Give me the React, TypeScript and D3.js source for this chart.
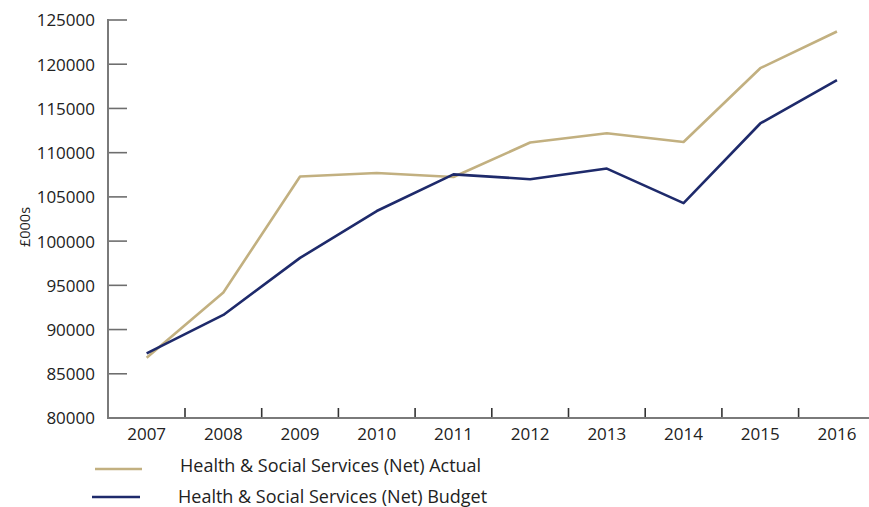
import React from "react";
import * as d3 from "d3";

const years = ["2007", "2008", "2009", "2010", "2011", "2012", "2013", "2014", "2015", "2016"];
const actual = [86800, 94200, 107300, 107700, 107250, 111150, 112200, 111200, 119550, 123700];
const budget = [87300, 91650, 98100, 103400, 107550, 107000, 108200, 104300, 113300, 118200];
const yTicks = [80000, 85000, 90000, 95000, 100000, 105000, 110000, 115000, 120000, 125000];
const seriesNames = ["Health & Social Services (Net) Actual", "Health & Social Services (Net) Budget"];
const colors = ["#C2B080", "#1E2A6B"];

const W = 869, H = 507;
const FONT = "'Open Sans', sans-serif";

export default function App() {
  const x = d3.scaleBand().domain(years).range([108.3, 875.3]);
  const y = d3.scaleLinear().domain([80000, 125000]).range([418, 20]);
  const cx = (d: string) => (x(d) as number) + x.bandwidth() / 2;
  const line = d3.line<number>().x((_, i) => cx(years[i])).y((v) => y(v));
  const boundaries = years.slice(1).map((d) => x(d) as number);
  const series = [actual, budget];
  const legendLineY = [469, 497];
  const legendTextY = [472, 502.5];
  const legendX = [[95, 142, 180], [92, 140, 178]];

  return (
    <svg width={W} height={H} style={{ position: "absolute", left: 0, top: 0, background: "#fff" }} fontFamily={FONT}>
      {/* y ticks */}
      {yTicks.map((t) => (
        <g key={t}>
          <line x1={108} x2={127} y1={y(t)} y2={y(t)} stroke="#6e6e6e" strokeWidth={1.6} />
          <text x={95} y={y(t)} dy="0.38em" textAnchor="end" fontSize={17} fill="#222">{t}</text>
        </g>
      ))}
      {/* x ticks */}
      {boundaries.map((b, i) => (
        <line key={i} x1={b} x2={b} y1={418} y2={408} stroke="#333" strokeWidth={1.6} />
      ))}
      {years.map((d) => (
        <text key={d} x={cx(d)} y={440} textAnchor="middle" fontSize={17} fill="#222">{d}</text>
      ))}
      {/* axes */}
      <line x1={108} x2={108} y1={19} y2={419} stroke="#7a7a7a" strokeWidth={2} />
      <line x1={107} x2={869} y1={418} y2={418} stroke="#7a7a7a" strokeWidth={2} />
      <text transform={`translate(30,227) rotate(-90)`} textAnchor="middle" fontSize={14.5} fill="#222">£000s</text>
      {/* lines */}
      {series.map((s, i) => (
        <path key={i} d={line(s) as string} fill="none" stroke={colors[i]} strokeWidth={2.6} strokeLinejoin="round" />
      ))}
      {/* legend */}
      {seriesNames.map((n, i) => (
        <g key={n}>
          <line x1={legendX[i][0]} x2={legendX[i][1]} y1={legendLineY[i]} y2={legendLineY[i]} stroke={colors[i]} strokeWidth={2.6} />
          <text x={legendX[i][2]} y={legendTextY[i]} fontSize={18} fill="#222">{n}</text>
        </g>
      ))}
    </svg>
  );
}
